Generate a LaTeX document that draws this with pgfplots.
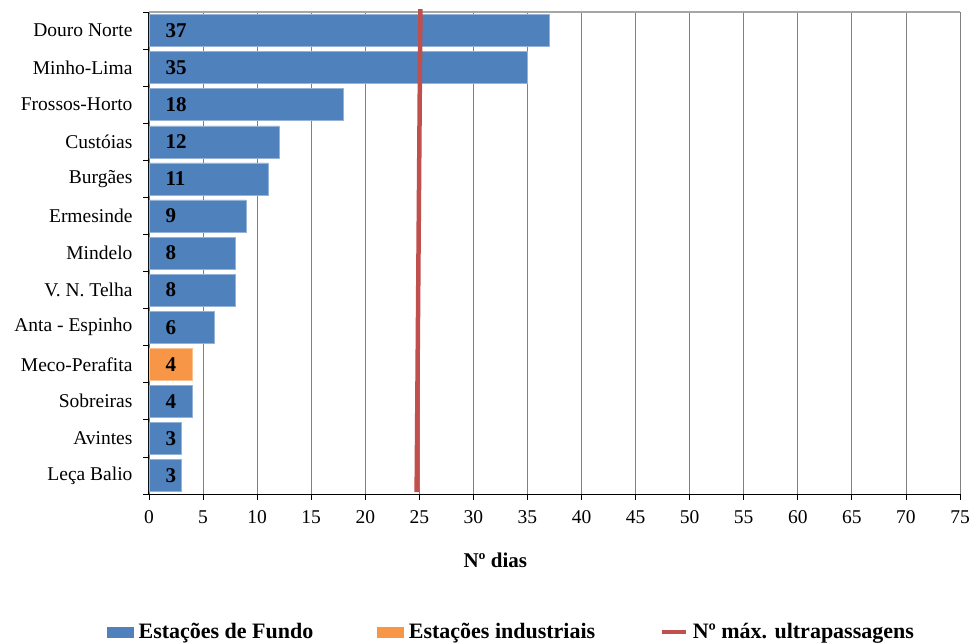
\documentclass[border=0pt]{standalone}
\usepackage{pgfplots}
\pgfplotsset{compat=1.18}
\usepackage{fontspec}
\setmainfont{Liberation Serif}
\definecolor{cblue}{HTML}{4F81BD}
\definecolor{corange}{HTML}{F79646}
\definecolor{cred}{HTML}{C0504D}
\definecolor{cgrid}{HTML}{808080}
\begin{document}
\begin{tikzpicture}
\useasboundingbox (-149bp,-149bp) rectangle (821bp,494bp);
\begin{axis}[
  at={(0,0)}, anchor=south west,
  scale only axis, width=811bp, height=482bp,
  xmin=0, xmax=75, ymin=-0.5, ymax=12.5, y dir=reverse,
  xtick={0,5,...,75},
  ytick={0,...,12},
  yticklabels={Douro Norte,Minho-Lima,Frossos-Horto,Custóias,Burgães,Ermesinde,Mindelo,V. N. Telha,Anta - Espinho,Meco-Perafita,Sobreiras,Avintes,Leça Balio},
  minor ytick={-0.5,0.5,...,12.5},
  tick align=outside,
  major tick length=6bp, minor tick length=6bp,
  major y tick style={draw=none},
  minor y tick style={black, line width=0.8bp},
  major x tick style={black, line width=0.8bp},
  axis x line*=bottom, axis y line*=left,
  axis line style={black, line width=1bp},
  xmajorgrids,
  grid style={cgrid, line width=0.8bp},
  clip=false,
  bar width=32bp,
  /pgf/number format/assume math mode=true,
  ticklabel style={font=\fontsize{19.5bp}{23bp}\selectfont},
  yticklabel style={xshift=-7bp},
  xticklabel style={yshift=-7bp},
  legend style={at={(0.447,-0.286)}, anchor=center, draw=none, fill=none,
    legend columns=3, font=\bfseries\fontsize{22bp}{25bp}\selectfont,
    /tikz/every even column/.append style={column sep=62bp},
    /tikz/every odd column/.append style={column sep=3bp}},
  legend cell align=left,
]
\draw[gray!70, line width=1.6bp] (rel axis cs:0,1) -- (rel axis cs:1,1);
\addplot[xbar, bar shift=0pt, fill=cblue, draw=cblue!60!white, line width=0.5bp,
  legend image code/.code={\fill[cblue] (0bp,-5bp) rectangle (26bp,5bp);}]
  coordinates {(37,0) (35,1) (18,2) (12,3) (11,4) (9,5) (8,6) (8,7) (6,8) (4,10) (3,11) (3,12)};
\addlegendentry{Estações de Fundo}
\addplot[xbar, bar shift=0pt, fill=corange, draw=corange!60!white, line width=0.5bp,
  legend image code/.code={\fill[corange] (0bp,-5bp) rectangle (26bp,5bp);}]
  coordinates {(4,9)};
\addlegendentry{Estações industriais}
\addplot[draw=none, mark=none, forget plot, nodes near coords, point meta=explicit symbolic,
  nodes near coords style={anchor=west, xshift=13bp, text=black, font=\bfseries\fontsize{21bp}{24bp}\selectfont}]
  coordinates {(0,0)[37] (0,1)[35] (0,2)[18] (0,3)[12] (0,4)[11] (0,5)[9] (0,6)[8] (0,7)[8] (0,8)[6] (0,9)[4] (0,10)[4] (0,11)[3] (0,12)[3]};
\addplot[cred, line width=4.5bp,
  legend image code/.code={\draw[cred, line width=4.5bp] (0bp,0bp) -- (24bp,0bp);}]
  coordinates {(25.1,-0.58) (24.75,12.45)};
\addlegendentry{Nº máx. ultrapassagens}
\node[font=\bfseries\fontsize{21bp}{24bp}\selectfont] at (rel axis cs:0.427,0) [yshift=-66bp] {Nº dias};
\end{axis}
\end{tikzpicture}
\end{document}
